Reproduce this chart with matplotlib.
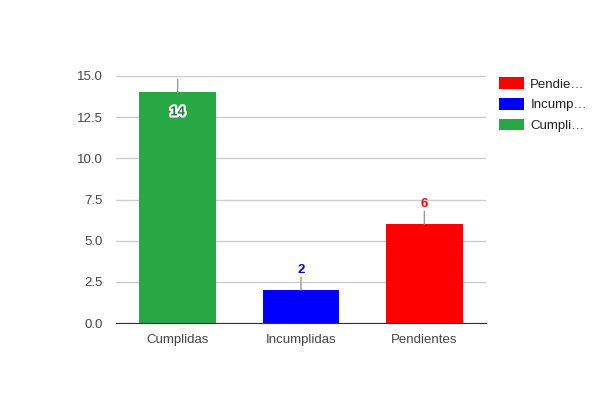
import matplotlib
matplotlib.use("Agg")
import matplotlib.pyplot as plt
import matplotlib.patheffects as pe
from matplotlib.patches import Patch

categories = ["Cumplidas", "Incumplidas", "Pendientes"]
values = [14, 2, 6]
colors = ["#28a745", "#0000ff", "#ff0000"]
legend_labels = ["Pendie…", "Incump…", "Cumpli…"]
legend_colors = ["#ff0000", "#0000ff", "#28a745"]
yticks = [0.0, 2.5, 5.0, 7.5, 10.0, 12.5, 15.0]

plt.rcParams['font.family'] = ['Liberation Sans', 'DejaVu Sans']

fig = plt.figure(figsize=(6, 4), dpi=100)
ax = fig.add_axes([116/600, 1 - 323/400, 370/600, (323 - 76)/400])

x = list(range(len(categories)))
ax.bar(x, values, width=0.62, color=colors, zorder=2)
ax.set_xlim(-0.5, len(categories) - 0.5)
ax.set_ylim(0, 15)
ax.set_yticks(yticks)
ax.set_yticklabels([f"{t:.1f}" for t in yticks])
ax.set_xticks(x)
ax.set_xticklabels(categories)
ax.tick_params(axis='both', length=0, labelsize=9.5, colors='#444444')
ax.tick_params(axis='y', pad=9.5)
ax.tick_params(axis='x', pad=8)
ax.grid(axis='y', color='#cccccc', linewidth=1, zorder=0)
for s in ['top', 'right', 'left']:
    ax.spines[s].set_visible(False)
ax.spines['bottom'].set_color('#333333')
ax.spines['bottom'].set_zorder(3)

for xi, v, c in zip(x, values, colors):
    ax.annotate('', xy=(xi, v), xytext=(0, 13), textcoords='offset pixels',
                arrowprops=dict(arrowstyle='-', color='#999999', lw=1,
                                shrinkA=0, shrinkB=0), zorder=3)
    if v >= 13:
        t = ax.annotate(str(v), xy=(xi, v), xytext=(0, -20), textcoords='offset pixels',
                        ha='center', va='center', fontsize=9.5, fontweight='bold',
                        color='#1f7a33', zorder=4)
        t.set_path_effects([pe.withStroke(linewidth=3, foreground='white')])
    else:
        ax.annotate(str(v), xy=(xi, v), xytext=(0, 14), textcoords='offset pixels',
                    ha='center', va='bottom', fontsize=9.5, fontweight='bold',
                    color=c, zorder=4)

handles = [Patch(facecolor=c, edgecolor='none') for c in legend_colors]
fig.legend(handles, legend_labels, loc='upper left', bbox_to_anchor=(494/600, 1 - 72/400),
           frameon=False, fontsize=9.5, handlelength=1.9, handleheight=1.0,
           handletextpad=0.45, labelspacing=0.55, labelcolor='#222222', borderaxespad=0)

fig.savefig("out.png", dpi=100)
